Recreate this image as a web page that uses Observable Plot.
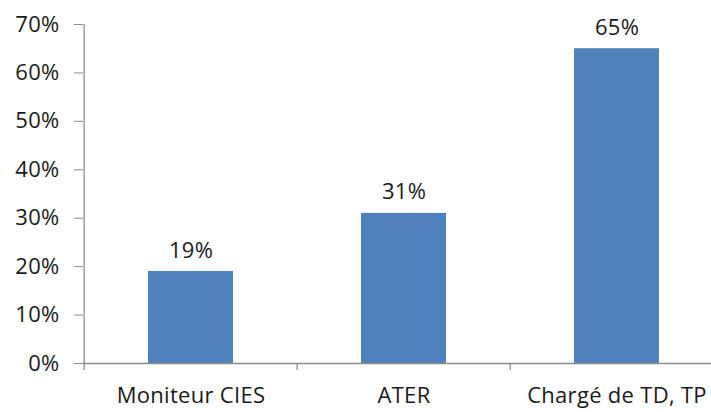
<!DOCTYPE html>
<html><head><meta charset="utf-8">
<script src="https://cdn.jsdelivr.net/npm/d3@7"></script>
<script src="https://cdn.jsdelivr.net/npm/@observablehq/plot@0.6"></script>
<style>
html,body{margin:0;padding:0;background:#fff;overflow:hidden;}
svg{overflow:visible;}
</style>
</head><body>
<div id="chart"></div>
<script>
const categories = ["Moniteur CIES", "ATER", "Chargé de TD, TP"];
const values = [0.19, 0.31, 0.65];
const yTicks = [0, 0.1, 0.2, 0.3, 0.4, 0.5, 0.6, 0.7];

const data = categories.map((c, i) => ({cat: c, v: values[i]}));
const font = "'Open Sans', sans-serif";
const axisColor = "#8c8c8c";
const step = (724 - 83) / 3;

const plot = Plot.plot({
  width: 711,
  height: 412,
  marginLeft: 83,
  marginRight: -13,
  marginTop: 24,
  marginBottom: 49,
  style: {fontFamily: font, fontSize: "22px", color: "#1a1a1a", background: "#fff", letterSpacing: "0.3px"},
  x: {domain: categories, paddingInner: 0.6, paddingOuter: 0.3, label: null},
  y: {domain: [0, 0.7], label: null},
  marks: [
    Plot.barY(data, {x: "cat", y: "v", fill: "#4f81bd"}),
    Plot.ruleY([0], {stroke: axisColor, strokeWidth: 1.3}),
    Plot.ruleX([categories[0]], {x: d => d, dx: -step / 2, y1: 0, y2: 0.7, stroke: axisColor, strokeWidth: 1.3}),
    Plot.axisY({ticks: yTicks, tickFormat: d => Math.round(d * 100) + "%", tickSize: 9, tickPadding: 15, stroke: axisColor, fontSize: 22}),
    Plot.ruleX(categories, {x: d => d, dx: -step / 2, y1: 0, y2: 0, insetBottom: -7, stroke: axisColor, strokeWidth: 1.3}),
    Plot.axisX({tickSize: 0, tickPadding: 24, fontSize: 22}),
    Plot.text(data, {x: "cat", y: "v", text: d => Math.round(d.v * 100) + "%", dy: -21, fontSize: 22, fill: "#1a1a1a"})
  ]
});
document.getElementById("chart").appendChild(plot);
</script>
</body></html>
